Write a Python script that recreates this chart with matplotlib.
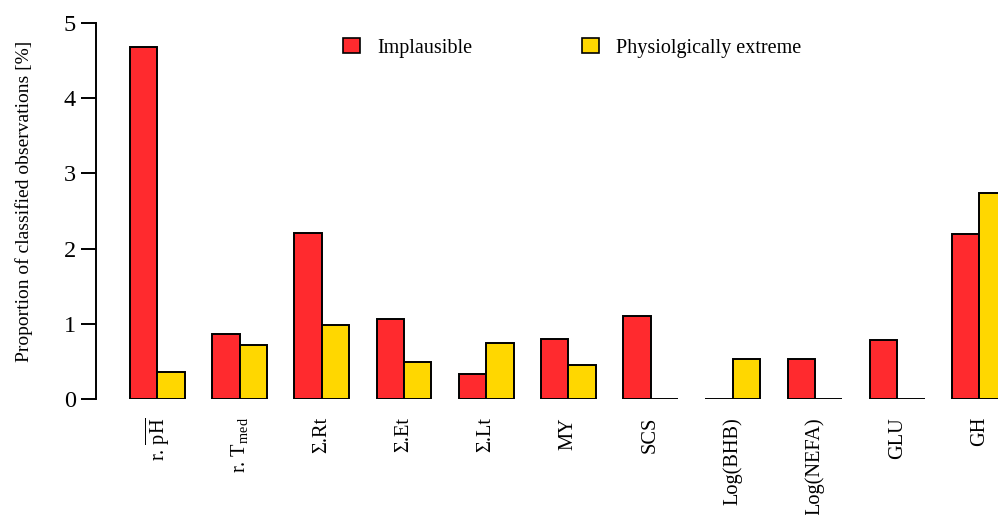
from matplotlib import pyplot as plt
from matplotlib.patches import Patch
import numpy as np

plt.rcParams['font.family'] = ['Liberation Serif', 'DejaVu Serif']
plt.rcParams['mathtext.fontset'] = 'custom'
plt.rcParams['mathtext.rm'] = 'Liberation Serif'
plt.rcParams['mathtext.it'] = 'Liberation Serif:italic'

categories = [r'r. $\overline{\mathrm{pH}}$', r'r. T$_{\mathrm{med}}$', 'Σ.Rt', 'Σ.Et', 'Σ.Lt',
              'MY', 'SCS', 'Log(BHB)', 'Log(NEFA)', 'GLU', 'GH']
implausible = [4.68, 0.86, 2.21, 1.06, 0.33, 0.80, 1.10, 0.0, 0.53, 0.78, 2.19]
extreme = [0.36, 0.72, 0.98, 0.49, 0.74, 0.45, 0.0, 0.53, 0.0, 0.0, 2.74]

red = '#FF2A2E'
yellow = '#FFD700'

W, H = 998, 515
fig = plt.figure(figsize=(W / 100, H / 100), dpi=100)
ax = fig.add_axes([95.5 / W, (H - 399) / H, 1 - 95.5 / W, 376 / H])

g = np.arange(len(categories))
left_red = g * 3 + 1
ax.bar(left_red, implausible, width=1, align='edge', color=red, edgecolor='black', linewidth=1.4)
ax.bar(left_red + 1, extreme, width=1, align='edge', color=yellow, edgecolor='black', linewidth=1.4)

ax.set_xlim(-0.26, 32.68)
ax.set_ylim(0, 5)
for s in ['top', 'right', 'bottom']:
    ax.spines[s].set_visible(False)
ax.spines['left'].set_linewidth(1.4)
ax.set_yticks([0, 1, 2, 3, 4, 5])
ax.tick_params(axis='y', length=11, width=1.4, labelsize=17.5, pad=3)
ax.set_xticks(g * 3 + 2)
ax.set_xticklabels(categories, rotation=90, fontsize=14.7, va='top')
ax.tick_params(axis='x', length=0, pad=13)

# y label placed by hand, R leaves it a bit above the middle
fig.text(24 / W, 1 - 201 / H, 'Proportion of classified observations [%]', fontsize=14,
         rotation=90, ha='center', va='center')

handles = [Patch(facecolor=red, edgecolor='black', linewidth=1.2, label='Implausible'),
           Patch(facecolor=yellow, edgecolor='black', linewidth=1.2, label='Physiolgically extreme')]
fig.legend(handles=handles, ncol=2, loc='center left', bbox_to_anchor=(343 / W, 1 - 48 / H),
           frameon=False, fontsize=14.5, handlelength=0.85, handleheight=0.75, handletextpad=0.85,
           columnspacing=5.45, borderpad=0, borderaxespad=0)

plt.savefig('out.png', dpi=100)
